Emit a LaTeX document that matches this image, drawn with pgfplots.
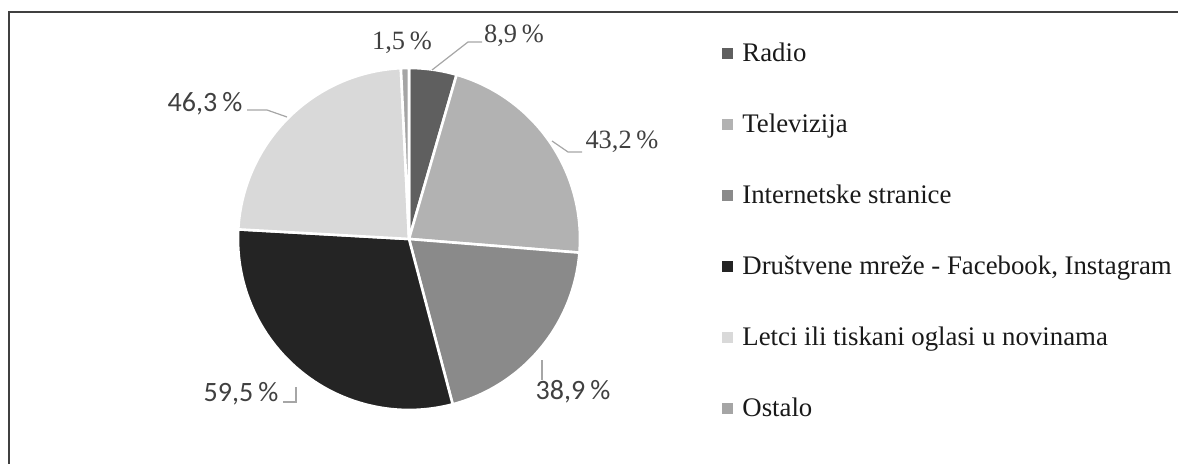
\documentclass[border=0pt]{standalone}
\usepackage{pgfplots}
\usepackage{pgfplotstable}
\pgfplotsset{compat=1.18}
\usepackage{fontspec}
\setmainfont{Liberation Serif}
\newfontfamily\lblsans{Carlito}
\definecolor{c0}{HTML}{5F5F5F}
\definecolor{c1}{HTML}{B2B2B2}
\definecolor{c2}{HTML}{8A8A8A}
\definecolor{c3}{HTML}{242424}
\definecolor{c4}{HTML}{D9D9D9}
\definecolor{c5}{HTML}{A5A5A5}
\definecolor{lblcol}{HTML}{404040}
\definecolor{leadcol}{HTML}{A6A6A6}
\definecolor{framecol}{HTML}{404040}

% values (percent of respondents); label centre and legend row in pixel coordinates (y from top)
\pgfplotstableread[col sep=semicolon]{
name;value;lx;ly;sans;legy
Radio;8.9;514;36;0;54
Televizija;43.2;622;142;0;125
Internetske stranice;38.9;573;392;1;196
Društvene mreže - Facebook, Instagram;59.5;241;394;1;267
Letci ili tiskani oglasi u novinama;46.3;205;104;1;338
Ostalo;1.5;402;43;0;409
}\piedata

\begin{document}
\begin{tikzpicture}
\begin{axis}[
  width=589pt, height=232pt, scale only axis,
  xmin=0, xmax=1178, ymin=0, ymax=464,
  hide axis, clip=false,
]
\addplot[draw=none, forget plot] coordinates {(0,0) (1178,464)};
\coordinate (SW) at (axis cs:0,0);
\coordinate (NE) at (axis cs:1178,464);
\pgfplotsextra{
  \gdef\pietotal{0}
  \foreach \i in {0,...,5}{
    \pgfplotstablegetelem{\i}{value}\of\piedata
    \pgfmathparse{\pietotal+\pgfplotsretval}\xdef\pietotal{\pgfmathresult}
  }
  \gdef\cum{0}
  \foreach \i in {0,...,5}{
    \pgfplotstablegetelem{\i}{value}\of\piedata \let\v\pgfplotsretval
    \pgfmathsetmacro\aA{90-360*(\cum/\pietotal)}
    \pgfmathsetmacro\aB{90-360*((\cum+\v)/\pietotal)}
    \fill[c\i, draw=white, line width=1.3pt, line join=round]
      (axis cs:409,225) -- ++(\aA:85.5pt) arc[start angle=\aA, end angle=\aB, radius=85.5pt] -- cycle;
    \pgfmathparse{\cum+\v}\xdef\cum{\pgfmathresult}
  }
  % labels and legend
  \foreach \i in {0,...,5}{
    \pgfplotstablegetelem{\i}{value}\of\piedata \let\v\pgfplotsretval
    \pgfplotstablegetelem{\i}{lx}\of\piedata \let\lx\pgfplotsretval
    \pgfplotstablegetelem{\i}{ly}\of\piedata \let\ly\pgfplotsretval
    \pgfplotstablegetelem{\i}{sans}\of\piedata \let\sn\pgfplotsretval
    \pgfplotstablegetelem{\i}{legy}\of\piedata \let\lg\pgfplotsretval
    \pgfplotstablegetelem{\i}{name}\of\piedata \let\nm\pgfplotsretval
    \ifnum\sn=1 \def\lf{\lblsans\fontsize{14}{16}\selectfont}\else\def\lf{\fontsize{13.2}{15}\selectfont}\fi
    \pgfmathsetmacro\yy{464-\ly}
    \node[text=lblcol, font=\lf, inner sep=0pt] at (axis cs:\lx,\yy)
      {\pgfmathprintnumber[fixed, precision=1, fixed zerofill, use comma, assume math mode=true]{\v}\hspace{0.18em}\%};
    \pgfmathsetmacro\my{464-\lg}
    \fill[c\i] (axis cs:722,\my) ++(0,-2.75pt) rectangle ++(5.5pt,5.5pt);
    \pgfmathsetmacro\by{464-\lg-8}
    \node[anchor=base west, inner sep=0pt, text=black!90, font=\fontsize{13.4}{15}\selectfont]
      at (axis cs:742,\by) {\nm};
  }
}
% leader lines
\draw[leadcol, line width=0.6pt] (axis cs:482,422) -- (axis cs:468,422) -- (axis cs:432,394);
\draw[leadcol, line width=0.6pt] (axis cs:582,312) -- (axis cs:568,312) -- (axis cs:552,323);
\draw[leadcol, line width=0.6pt] (axis cs:247,354) -- (axis cs:267,354) -- (axis cs:287,347);
\draw[leadcol, line width=0.6pt] (axis cs:283,62) -- (axis cs:296,62) -- (axis cs:296,77);
\draw[leadcol, line width=0.6pt] (axis cs:542,84) -- (axis cs:542,104);
% chart frame
\draw[framecol, line width=0.8pt] (axis cs:9,0) -- (axis cs:9,452) -- (axis cs:1178,452);
\end{axis}
\pgfresetboundingbox
\path (SW) rectangle (NE);
\end{tikzpicture}
\end{document}
